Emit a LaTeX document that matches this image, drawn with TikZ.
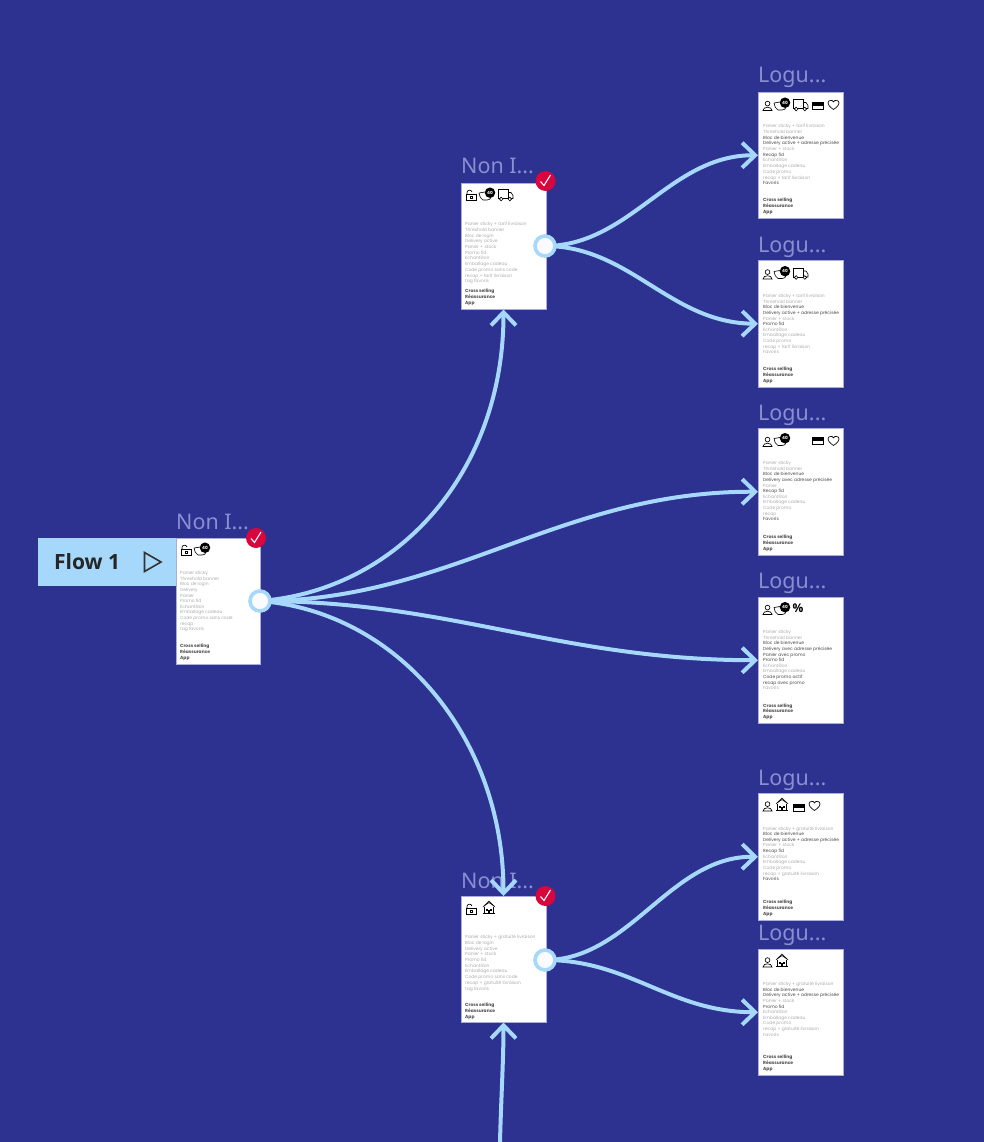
\documentclass[tikz,border=0pt]{standalone}
\usepackage{fontspec}
\usetikzlibrary{arrows.meta}
\newfontfamily\cardfont{Poppins}
\newfontfamily\titlefont{Noto Sans}
\newfontfamily\flowfont{Open Sans}
\definecolor{bgblue}{HTML}{2D3190}
\definecolor{flowblue}{HTML}{A6D8FB}
\definecolor{titlecol}{HTML}{8A8FD2}
\definecolor{cardedge}{HTML}{A9ACDD}
\definecolor{checkred}{HTML}{D9063D}
\definecolor{greytext}{HTML}{ABABAB}
\definecolor{darktext}{HTML}{484848}
\definecolor{boldtext}{HTML}{505050}
\tikzset{
  cardbox/.style={draw=cardedge,line width=0.8pt,fill=white,anchor=north west,inner sep=0pt,outer sep=0pt,minimum width=85pt,minimum height=126.5pt},
  cardtitle/.style={anchor=base west,inner sep=0pt,text=titlecol,font=\titlefont\fontsize{21.5}{21}\selectfont},
  gline/.style={anchor=base west,inner sep=0pt,text=greytext,font=\cardfont\fontsize{4.45}{5}\selectfont},
  dline/.style={anchor=base west,inner sep=0pt,text=darktext,font=\cardfont\fontsize{4.45}{5}\selectfont},
  bline/.style={anchor=base west,inner sep=0pt,text=boldtext,font=\cardfont\bfseries\fontsize{4.45}{5}\selectfont},
  flink/.style={draw=flowblue,line width=4pt,-{Straight Barb[length=13pt,width=25pt,line width=4pt]}},
  port/.style={circle,draw=flowblue,line width=3.6pt,fill=white!98!blue,minimum size=20pt,inner sep=0pt},
  okbadge/.style={circle,fill=checkred,minimum size=20pt,inner sep=0pt},
  icon/.style={line width=0.65pt,draw=black},
  countbadge/.style={circle,fill=black,text=white,minimum size=10.5pt,inner sep=0pt,font=\cardfont\bfseries\fontsize{4.2}{4}\selectfont},
}
\newcommand{\cardlines}[5]{%
  \foreach \s/\t [count=\i] in {#5}{%
    \node[\s] (#1l\i) at (#2,{#3+(\i-1)*#4+1.7}) {\t};
  }}
\newcommand{\cardfoot}[3]{%
  \node[bline] (#1fa) at (#2,#3+1.7) {Cross selling};
  \node[bline] (#1fb) at (#2,#3+7.5) {Réassurance};
  \node[bline] (#1fc) at (#2,#3+13.3) {App};}
\newcommand{\iconperson}[2]{\begin{scope}[shift={(#1,#2)},icon]
  \draw (4.5,2.6) circle (2.4);
  \draw (0,9.5) .. controls (0,5.2) and (9,5.2) .. (9,9.5) -- cycle;
\end{scope}}
\newcommand{\iconlock}[2]{\begin{scope}[shift={(#1,#2)},icon]
  \draw (1,4) rectangle (11,10.5);
  \draw (5,6) rectangle (7.5,8.5);
  \draw (2,4) -- (2,2.5) .. controls (2,-0.5) and (6.5,-0.5) .. (7,2);
\end{scope}}
\newcommand{\iconbag}[3]{\begin{scope}[shift={(#1,#2)},icon]
  \draw (0,5) -- (12,3) -- (12,9) .. controls (12,11) and (10,12) .. (8,12) -- (4,12) .. controls (1.5,11) and (0.5,8) .. (0,5);
  \node[countbadge] (#3) at (11,4.7) {40};
\end{scope}}
\newcommand{\icontruck}[2]{\begin{scope}[shift={(#1,#2)},icon]
  \draw (0,-0.5) rectangle (10,8.5);
  \draw (10,2.5) -- (13,2.5) -- (15,5.5) -- (15,8.5) -- (10,8.5);
  \draw[fill=white] (3.2,9) circle (1.8);
  \draw[fill=white] (11.8,9) circle (1.8);
\end{scope}}
\newcommand{\iconcard}[2]{\begin{scope}[shift={(#1,#2)},icon]
  \draw (0,0) rectangle (11,7.5);
  \fill[black] (0,1.3) rectangle (11,3.6);
\end{scope}}
\newcommand{\iconheart}[2]{\begin{scope}[shift={(#1,#2)},icon]
  \draw (5.5,9.5) .. controls (1,6.5) and (0,4.5) .. (0,3) .. controls (0,0) and (4.5,-0.8) .. (5.5,2)
    .. controls (6.5,-0.8) and (11,0) .. (11,3) .. controls (11,4.5) and (10,6.5) .. (5.5,9.5) -- cycle;
\end{scope}}
\newcommand{\iconhouse}[2]{\begin{scope}[shift={(#1,#2)},icon]
  \draw (0,6) -- (6,0) -- (12,6);
  \draw (1,5) -- (6,1.5) -- (11,5);
  \draw (1.5,6) -- (1.5,12) -- (10.5,12) -- (10.5,6);
  \draw (0,12) -- (12,12);
  \fill[black] (3,7.5) rectangle (5,9.5);
  \fill[black] (7,7.5) rectangle (9,9.5);
  \draw (5.2,12) -- (5.2,9.8) -- (6.8,9.8) -- (6.8,12);
\end{scope}}
\begin{document}
\begin{tikzpicture}[x=1pt,y=-1pt]
\useasboundingbox[fill=bgblue] (0,0) rectangle (984,1142);

% titles
\node[cardtitle] (tA) at (176,529) {Non I...};
\node[cardtitle] (tB) at (461,174) {Non I...};
\node[cardtitle] (tC) at (461,888) {Non I...};
\node[cardtitle] (t1) at (758,83) {Logu...};
\node[cardtitle] (t2) at (758,252) {Logu...};
\node[cardtitle] (t3) at (758,420) {Logu...};
\node[cardtitle] (t4) at (758,588) {Logu...};
\node[cardtitle] (t5) at (758,785) {Logu...};
\node[cardtitle] (t6) at (758,940) {Logu...};

% cards
\node[cardbox,minimum width=84pt] (A) at (176,538) {};
\node[cardbox] (B) at (461,183) {};
\node[cardbox] (C) at (461,896) {};
\node[cardbox] (L1) at (758,92) {};
\node[cardbox] (L2) at (758,260.5) {};
\node[cardbox] (L3) at (758,428.5) {};
\node[cardbox] (L4) at (758,597) {};
\node[cardbox] (L5) at (758,793.5) {};
\node[cardbox] (L6) at (758,949) {};

% flow tab
\node[fill=flowblue,anchor=north west,inner sep=0pt,minimum width=138pt,minimum height=48pt] (flow) at (38,538) {};
\node[anchor=west,inner sep=0pt,text=black!85,font=\flowfont\bfseries\fontsize{21}{22}\selectfont] (flowtxt) at (54,562) {Flow 1};
\draw[line width=1.6pt,draw=black!80,line join=miter] (144.5,552.5) -- (144.5,571.5) -- (161,562) -- cycle;

% text
\cardlines{A}{180}{573}{5.6}{gline/Panier sticky,gline/Threshold banner,gline/Bloc de login,gline/Delivery,gline/Panier,gline/Promo fid,gline/Echantillon,gline/Emballage cadeau,gline/Code promo sans code,gline/recap,gline/tag favoris}
\cardfoot{A}{180}{646}
\cardlines{B}{465}{224}{5.7}{gline/Panier sticky + tarif livraison,gline/Threshold banner,gline/Bloc de login,gline/Delivery active,gline/Panier + stock,gline/Promo fid,gline/Echantillon,gline/Emballage cadeau,gline/Code promo sans code,gline/recap + tarif livraison,gline/tag favoris}
\cardfoot{B}{465}{291}
\cardlines{C}{465}{937}{5.7}{gline/Panier sticky + gratuité livraison,gline/Bloc de login,gline/Delivery active,gline/Panier + stock,gline/Promo fid,gline/Echantillon,gline/Emballage cadeau,gline/Code promo sans code,gline/recap + gratuité livraison,gline/tag favoris}
\cardfoot{C}{465}{1004.7}
\cardlines{La}{763}{126}{5.7}{gline/Panier sticky + tarif livraison,gline/Threshold banner,dline/Bloc de bienvenue,dline/Delivery active + adresse précisée,gline/Panier + stock,dline/Recap fid,gline/Echantillon,gline/Emballage cadeau,gline/Code promo,gline/recap + tarif livraison,dline/Favoris}
\cardfoot{La}{763}{200}
\cardlines{Lb}{763}{295.7}{5.65}{gline/Panier sticky + tarif livraison,gline/Threshold banner,dline/Bloc de bienvenue,dline/Delivery active + adresse précisée,gline/Panier + stock,dline/Promo fid,gline/Echantillon,gline/Emballage cadeau,gline/Code promo,gline/recap + tarif livraison,gline/Favoris}
\cardfoot{Lb}{763}{369}
\cardlines{Lc}{763}{462.7}{5.65}{gline/Panier sticky,gline/Threshold banner,dline/Bloc de bienvenue,dline/Delivery avec adresse précisée,gline/Panier,dline/Recap fid,gline/Echantillon,gline/Emballage cadeau,gline/Code promo,gline/recap,dline/Favoris}
\cardfoot{Lc}{763}{536.7}
\cardlines{Ld}{763}{631.7}{5.65}{gline/Panier sticky,gline/Threshold banner,dline/Bloc de bienvenue,dline/Delivery avec adresse précisée,dline/Panier avec promo,dline/Promo fid,gline/Echantillon,gline/Emballage cadeau,dline/Code promo actif,dline/recap avec promo,gline/Favoris}
\cardfoot{Ld}{763}{705.3}
\cardlines{Le}{763}{828.3}{5.65}{gline/Panier sticky + gratuité livraison,dline/Bloc de bienvenue,dline/Delivery active + adresse précisée,gline/Panier + stock,dline/Recap fid,gline/Echantillon,gline/Emballage cadeau,gline/Code promo,gline/recap + gratuité livraison,dline/Favoris}
\cardfoot{Le}{763}{901.7}
\cardlines{Lf}{763}{983.7}{5.65}{gline/Panier sticky + gratuité livraison,dline/Bloc de bienvenue,dline/Delivery active + adresse précisée,gline/Panier + stock,dline/Promo fid,gline/Echantillon,gline/Emballage cadeau,gline/Code promo,gline/recap + gratuité livraison,gline/Favoris}
\cardfoot{Lf}{763}{1057}

% icons
\iconlock{180}{545}\iconbag{194}{543}{bA}
\iconlock{465}{190}\iconbag{479}{188}{bB}\icontruck{498}{190}
\iconlock{465}{904}\iconhouse{483}{901}
\iconperson{763}{101}\iconbag{774}{98}{b1}\icontruck{793}{100}\iconcard{812}{102}\iconheart{828}{100}
\iconperson{763}{269.5}\iconbag{774}{266.5}{b2}\icontruck{793}{268.5}
\iconperson{763}{437}\iconbag{774}{433.5}{b3}\iconcard{812}{437}\iconheart{828}{436}
\iconperson{763}{605}\iconbag{774}{602.5}{b4}
\node[anchor=center,inner sep=0pt,font=\flowfont\bfseries\fontsize{12}{12}\selectfont] (pct) at (798,608.5) {\%};
\iconperson{763}{801.5}\iconhouse{776}{798}\iconcard{793}{804}\iconheart{809}{801}
\iconperson{763}{957.5}\iconhouse{776}{954}

% connectors
\coordinate (cA) at (260,601);
\coordinate (cB) at (545,246);
\coordinate (cC) at (545,960);
\coordinate (bottom) at (500,1142);
\draw[flink] (cA) .. controls (400,590) and (503.5,470) .. (B.south);
\draw[flink] (cA) .. controls (450,601) and (560,491) .. (L3.west);
\draw[flink] (cA) .. controls (450,601) and (560,660) .. (L4.west);
\draw[flink] (cA) .. controls (400,612) and (503.5,740) .. (C.north);
\draw[flink] (cB) .. controls (630,246) and (670,155) .. (L1.west);
\draw[flink] (cB) .. controls (630,246) and (670,323) .. (L2.west);
\draw[flink] (cC) .. controls (630,960) and (670,856) .. (L5.west);
\draw[flink] (cC) .. controls (630,960) and (670,1012) .. (L6.west);
\draw[flink] (bottom) .. controls (501,1100) and (503.5,1060) .. (C.south);
\node[port] (pA) at (cA) {};
\node[port] (pB) at (cB) {};
\node[port] (pC) at (cC) {};

% check badges
\foreach \n/\x/\y in {kA/256/538,kB/545.5/181,kC/545.5/896}{
  \node[okbadge] (\n) at (\x,\y) {};
  \draw[white,line width=1.1pt] (\x-5,\y+0.5) -- (\x-1.5,\y+4.5) -- (\x+5,\y-6);
}
\end{tikzpicture}
\end{document}
